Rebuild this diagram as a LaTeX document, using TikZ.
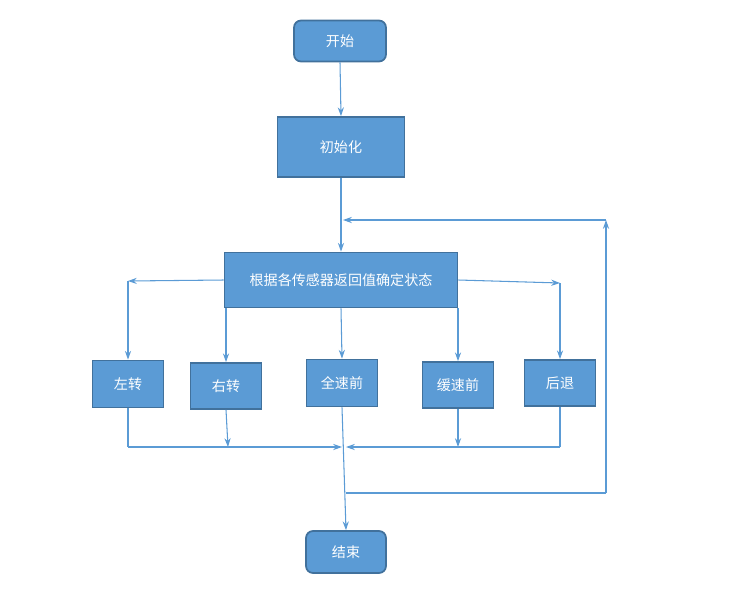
\documentclass[tikz,border=0pt]{standalone}
\usepackage{fontspec}
\setmainfont{Noto Sans CJK SC}
\usetikzlibrary{arrows.meta}
\definecolor{fillb}{HTML}{5B9BD5}
\definecolor{edgeb}{HTML}{41719C}
\begin{document}
\begin{tikzpicture}[x=0.02cm,y=-0.02cm,
  box/.style={draw=edgeb,line width=1pt,fill=fillb,text=white,font=\fontsize{8}{10}\selectfont,inner sep=0pt,anchor=center},
  rbox/.style={box,rounded corners=4pt},
  ln/.style={draw=fillb,line width=0.6pt},
  ar/.style={ln,-{Stealth[length=5pt,width=3.5pt]}}]
\useasboundingbox (0,0) rectangle (750,589);
\node[rbox,minimum width=1.84cm,minimum height=0.82cm] (start) at (340,41) {开始};
\node[box,minimum width=2.54cm,minimum height=1.2cm] (init) at (341,147) {初始化};
\node[box,minimum width=4.66cm,minimum height=1.1cm] (state) at (341,280) {根据各传感器返回值确定状态};
\node[box,minimum width=1.42cm,minimum height=0.94cm] (l) at (128,384) {左转};
\node[box,minimum width=1.42cm,minimum height=0.92cm] (r) at (226,386) {右转};
\node[box,minimum width=1.42cm,minimum height=0.94cm] (f) at (342,383) {全速前};
\node[box,minimum width=1.42cm,minimum height=0.92cm] (s) at (458,385) {缓速前};
\node[box,minimum width=1.42cm,minimum height=0.92cm] (b) at (560,383) {后退};
\node[rbox,minimum width=1.6cm,minimum height=0.84cm] (end) at (346,552) {结束};
\coordinate (lc) at (128,281);
\coordinate (rc) at (560,283);
\coordinate (lb) at (128,447);
\coordinate (bb) at (560,447);
\coordinate (mj) at (342,447);
\coordinate (mj2) at (346,447);
\coordinate (lp1) at (346,493);
\coordinate (lp2) at (606,493);
\coordinate (lp3) at (606,220);
\coordinate (lp4) at (343,220);
\draw[ar] (start.south) -- (init.north);
\draw[ar] (init.south) -- (state.north);
\draw[ar] (state.west) -- (lc);
\draw[ar] (lc) -- (l.north);
\draw[ar] (state.east) -- (rc);
\draw[ar] (rc) -- (b.north);
\draw[ar] (226,308) -- (r.north);
\draw[ar] (state.south) -- (f.north);
\draw[ar] (458,308) -- (s.north);
\draw[ln] (l.south) -- (lb);
\draw[ar] (lb) -- (mj);
\draw[ar] (r.south) -- (228,447);
\draw[ar] (s.south) -- (458,447);
\draw[ln] (b.south) -- (bb);
\draw[ar] (bb) -- (mj2);
\draw[ar] (f.south) -- (end.north);
\draw[ln] (lp1) -- (lp2);
\draw[ar] (lp2) -- (lp3);
\draw[ar] (lp3) -- (lp4);
\end{tikzpicture}
\end{document}
